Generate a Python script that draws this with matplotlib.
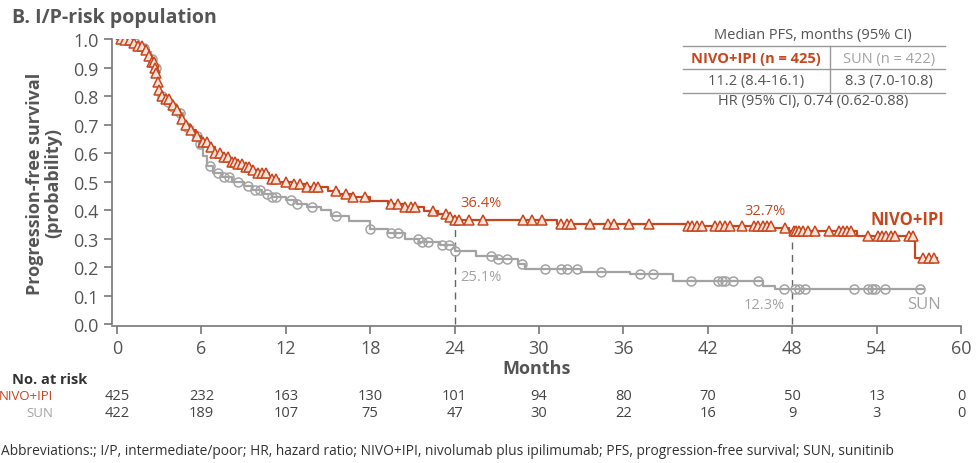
import numpy as np
import matplotlib
matplotlib.use("Agg")
import matplotlib.pyplot as plt
from matplotlib.transforms import blended_transform_factory

plt.rcParams['font.family'] = ['Open Sans', 'DejaVu Sans']

# Kaplan-Meier steps
nivo_t = [0, 0.5, 1.0, 1.5, 2.0, 2.3, 2.5, 2.7, 2.8, 2.9, 3.0, 3.1, 3.4, 3.8, 4.2, 4.5, 4.8, 5.2,
          5.6, 6.0, 6.5, 7.0, 7.5, 8.0, 8.5, 9.0, 9.5, 10.0, 10.8, 11.5, 12.5, 13.5, 15.0, 15.8,
          16.8, 18.0, 19.3, 20.5, 21.8, 22.8, 23.5, 24.0, 31.3, 40.5, 46.6, 47.8, 52.6, 56.7, 58.3]
nivo_s = [1.0, 0.995, 0.985, 0.975, 0.96, 0.94, 0.92, 0.90, 0.88, 0.85, 0.82, 0.80, 0.79, 0.77,
          0.75, 0.72, 0.70, 0.68, 0.66, 0.64, 0.62, 0.60, 0.585, 0.57, 0.56, 0.55, 0.54, 0.53, 0.51,
          0.50, 0.49, 0.48, 0.465, 0.455, 0.445, 0.432, 0.42, 0.41, 0.397, 0.385, 0.375, 0.364,
          0.351, 0.345, 0.338, 0.327, 0.31, 0.232, 0.232]
nivo_cens = [0.3, 0.6, 0.9, 1.2, 1.5, 1.8, 2.1, 2.3, 2.5, 2.6, 2.7, 2.8, 2.9, 3.0, 3.2, 3.5, 3.7,
             4.0, 4.3, 4.6, 4.9, 5.3, 5.7, 6.1, 6.4, 6.7, 7.0, 7.3, 7.6, 7.9, 8.2, 8.4, 8.6, 8.9,
             9.2, 9.4, 9.7, 10.0, 10.3, 10.6, 11.0, 11.3, 12.0, 12.6, 13.0, 13.5, 14.0, 14.3, 15.6,
             16.3, 16.8, 17.6, 19.5, 20.0, 20.5, 20.9, 21.2, 22.5, 23.4, 23.7, 24.0, 24.3, 25.0,
             26.0, 28.9, 29.5, 30.2, 31.6, 32.0, 32.3, 33.6, 34.9, 35.3, 36.4, 37.8, 40.6, 40.9,
             41.2, 41.6, 42.5, 42.9, 43.2, 43.6, 44.4, 45.3, 45.6, 45.9, 46.2, 46.5, 47.5, 48.1,
             48.3, 48.5, 48.8, 49.1, 49.6, 50.6, 51.3, 51.6, 51.9, 52.2, 53.4, 54.1, 54.4, 54.7,
             55.0, 55.3, 56.3, 56.6, 57.3, 57.7, 58.1]

sun_t = [0, 0.5, 1.0, 1.5, 2.0, 2.4, 2.7, 2.9, 3.0, 3.3, 3.8, 4.3, 4.7, 5.0, 5.4, 5.8, 6.1, 6.4,
         6.8, 7.5, 8.2, 9.0, 9.6, 10.3, 11.0, 12.0, 12.8, 13.5, 14.5, 15.2, 16.5, 18.0, 19.3, 20.5,
         21.5, 23.0, 24.0, 25.5, 27.0, 28.5, 29.0, 33.0, 36.5, 39.5, 45.9, 46.8, 57.3]
sun_s = [1.0, 0.995, 0.985, 0.97, 0.955, 0.93, 0.90, 0.85, 0.80, 0.78, 0.76, 0.74, 0.71, 0.69,
         0.66, 0.63, 0.59, 0.555, 0.53, 0.515, 0.50, 0.485, 0.47, 0.455, 0.445, 0.435, 0.42, 0.41,
         0.40, 0.38, 0.36, 0.335, 0.318, 0.30, 0.288, 0.277, 0.256, 0.24, 0.228, 0.21, 0.193,
         0.183, 0.175, 0.15, 0.133, 0.123, 0.123]
sun_cens = [0.4, 0.8, 1.3, 1.9, 2.5, 2.8, 3.2, 3.6, 4.0, 4.5, 5.0, 5.7, 5.9, 6.6, 7.2, 7.6, 8.0,
            8.6, 9.3, 9.8, 10.2, 10.7, 11.0, 11.3, 12.4, 12.8, 13.9, 15.6, 18.0, 19.5, 20.0, 21.4,
            21.7, 22.1, 23.1, 23.6, 24.0, 26.6, 27.1, 27.7, 28.8, 30.4, 31.6, 32.0, 32.7, 34.4,
            37.2, 38.1, 40.8, 42.7, 43.0, 43.2, 43.8, 45.6, 47.4, 48.2, 48.5, 48.9, 52.4, 53.4,
            53.7, 53.9, 54.6, 57.1]

risk_months = [0, 6, 12, 18, 24, 30, 36, 42, 48, 54, 60]
risk_nivo = [425, 232, 163, 130, 101, 94, 80, 70, 50, 13, 0]
risk_sun = [422, 189, 107, 75, 47, 30, 22, 16, 9, 3, 0]

red = '#c8461e'
grey = '#a3a3a3'
txt = '#555555'


def surv_at(times, surv, c):
    i = np.searchsorted(times, c, side='right') - 1
    return np.array(surv)[i]


W, H = 979, 464
fig = plt.figure(figsize=(W / 100, H / 100), dpi=100)
ax = fig.add_axes([112 / W, 1 - 327 / H, (961 - 112) / W, (327 - 40) / H])

ax.step(sun_t, sun_s, where='post', color=grey, lw=1.6, zorder=2)
ax.plot(sun_cens, surv_at(sun_t, sun_s, sun_cens), 'o', ms=6.5, mfc='none', mec=grey,
        mew=1.1, zorder=2)
ax.step(nivo_t, nivo_s, where='post', color=red, lw=1.6, zorder=3)
ax.plot(nivo_cens, surv_at(nivo_t, nivo_s, nivo_cens), '^', ms=6.5, mfc='#fbe3d8', mec=red,
        mew=1.1, zorder=3)

# landmark lines
ax.plot([24, 24], [0, 0.364], ls=(0, (5, 4)), color='#666666', lw=1, zorder=1)
ax.plot([48, 48], [0, 0.327], ls=(0, (5, 4)), color='#666666', lw=1, zorder=1)
ax.text(24.4, 0.425, '36.4%', color=red, fontsize=10.5, va='center')
ax.text(24.4, 0.165, '25.1%', color=grey, fontsize=10.5, va='center')
ax.text(47.5, 0.40, '32.7%', color=red, fontsize=10.5, va='center', ha='right')
ax.text(47.5, 0.07, '12.3%', color=grey, fontsize=10.5, va='center', ha='right')
ax.text(56.2, 0.37, 'NIVO+IPI', color=red, fontsize=12, fontweight='bold', va='center',
        ha='center')
ax.text(57.4, 0.07, 'SUN', color=grey, fontsize=12, va='center', ha='center')

ax.set_xlim(-0.35, 60)
ax.set_ylim(-0.007, 1.0)
ax.set_xticks(range(0, 61, 6))
ax.set_yticks(np.arange(0, 1.01, 0.1))
ax.set_yticklabels([f'{v:.1f}' for v in np.arange(0, 1.01, 0.1)])
ax.spines['top'].set_visible(False)
ax.spines['right'].set_visible(False)
for s in ('left', 'bottom'):
    ax.spines[s].set_color('#777777')
    ax.spines[s].set_linewidth(1.2)
ax.spines['left'].set_bounds(0, 1.0)
ax.tick_params(colors='#777777', labelcolor=txt, labelsize=13, length=6, width=1.2)
ax.set_xlabel('Months', fontsize=13, fontweight='bold', color=txt, labelpad=1)
ax.set_ylabel('Progression-free survival\n(probability)', fontsize=13, fontweight='bold',
              color=txt, labelpad=8, linespacing=1.0)

fig.text(12 / W, 1 - 18 / H, 'B. I/P-risk population', fontsize=14, fontweight='bold',
         color=txt, va='center')


def fx(px):
    return px / W


def fy(py):
    return 1 - py / H


# median PFS box
for py in (47, 70, 94):
    fig.add_artist(plt.Line2D([fx(683), fx(945)], [fy(py), fy(py)], color='#999999', lw=1))
fig.add_artist(plt.Line2D([fx(830), fx(830)], [fy(47), fy(94)], color='#999999', lw=1))
fig.text(fx(813), fy(36), 'Median PFS, months (95% CI)', fontsize=10.5, color=txt,
         ha='center', va='center')
fig.text(fx(756), fy(59), 'NIVO+IPI (n = 425)', fontsize=10.5, color=red, fontweight='bold',
         ha='center', va='center')
fig.text(fx(889), fy(59), 'SUN (n = 422)', fontsize=10.5, color=grey, ha='center',
         va='center')
fig.text(fx(756), fy(82), '11.2 (8.4-16.1)', fontsize=10.5, color=txt, ha='center',
         va='center')
fig.text(fx(889), fy(82), '8.3 (7.0-10.8)', fontsize=10.5, color=txt, ha='center',
         va='center')
fig.text(fx(813), fy(102), 'HR (95% CI), 0.74 (0.62-0.88)', fontsize=10.5, color=txt,
         ha='center', va='center')

# number at risk
tr = blended_transform_factory(ax.transData, fig.transFigure)
fig.text(fx(12), fy(380), 'No. at risk', fontsize=10.5, fontweight='bold', color='#333333',
         va='center')
fig.text(fx(53), fy(397), 'NIVO+IPI', fontsize=9.5, color=red, ha='right', va='center')
fig.text(fx(53), fy(414), 'SUN', fontsize=9.5, color=grey, ha='right', va='center')
for m, a, b in zip(risk_months, risk_nivo, risk_sun):
    ax.text(m, fy(397), str(a), transform=tr, fontsize=10.5, color='#444444', ha='center',
            va='center')
    ax.text(m, fy(414), str(b), transform=tr, fontsize=10.5, color='#444444', ha='center',
            va='center')

fig.text(fx(1), fy(452), 'Abbreviations:; I/P, intermediate/poor; HR, hazard ratio; '
         'NIVO+IPI, nivolumab plus ipilimumab; PFS, progression-free survival; SUN, sunitinib',
         fontsize=9.9, color='#333333', va='center')

fig.savefig('out.png', dpi=100)
